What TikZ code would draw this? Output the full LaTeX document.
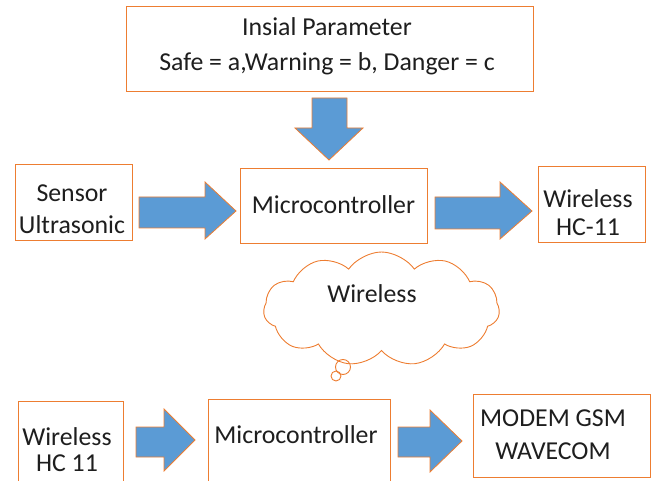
\documentclass[tikz,border=0pt]{standalone}
\usepackage{fontspec}
\setmainfont{Carlito}
\usetikzlibrary{shapes.symbols}
\definecolor{obord}{RGB}{237,125,49}
\definecolor{ablue}{RGB}{91,155,213}
\definecolor{tgray}{RGB}{30,30,30}
\tikzset{
  box/.style={draw=obord,line width=1pt,fill=white},
  lbl/.style={text=tgray,font=\fontsize{25.8}{32}\selectfont,align=center,inner sep=0pt},
  blk/.style={draw=obord,line width=0.8pt,fill=ablue}
}
\begin{document}
\begin{tikzpicture}[x=1pt,y=-1pt]
\useasboundingbox (0,0) rectangle (651,481);
\clip (0,0) rectangle (651,481);
% boxes
\draw[box] (126,7) rectangle (533,92);
\node[lbl,font=\fontsize{25.8}{35}\selectfont] (top) at (327,46) {Insial Parameter\\Safe = a,Warning = b, Danger = c};
\draw[box] (15,165) rectangle (132,241);
\node[lbl] (sens) at (72,209) {Sensor\\Ultrasonic};
\draw[box] (240,169) rectangle (427,244);
\node[lbl] (mc1) at (333.5,205) {Microcontroller};
\draw[box] (538,167) rectangle (645,243);
\node[lbl,font=\fontsize{25.8}{28}\selectfont] (wl1) at (588,213) {Wireless\\HC-11};
\draw[box] (18,401) rectangle (123,490);
\node[lbl,font=\fontsize{25.8}{26}\selectfont] (wl2) at (67,450) {Wireless\\HC 11};
\draw[box] (208,399) rectangle (390,490);
\node[lbl] (mc2) at (296,435) {Microcontroller};
\draw[box] (473,394) rectangle (650,477);
\node[lbl,font=\fontsize{25.8}{33}\selectfont] (gsm) at (553,435) {MODEM GSM\\WAVECOM};
% block arrows
\draw[blk] (312,98) -- (347,98) -- (347,128) -- (363,128) -- (329,160) -- (295,128) -- (312,128) -- cycle;
\draw[blk] (139,197) -- (205,197) -- (205,182) -- (236,211) -- (205,239) -- (205,228) -- (139,228) -- cycle;
\draw[blk] (435,197) -- (500,197) -- (500,182) -- (532,211) -- (500,239) -- (500,229) -- (435,229) -- cycle;
\draw[blk] (136,427) -- (164,427) -- (164,409) -- (195,440) -- (164,471) -- (164,457) -- (136,457) -- cycle;
\draw[blk] (398,427) -- (430,427) -- (430,410) -- (462,441) -- (430,472) -- (430,457) -- (398,457) -- cycle;
% cloud
\node[cloud,draw=obord,line width=0.9pt,cloud puffs=11,cloud puff arc=110,aspect=2.1,minimum width=236pt,minimum height=114pt,inner sep=0pt] (cl) at (381.5,309) {};
\node[lbl] (cltxt) at (372,294) {Wireless};
\draw[obord,line width=0.9pt] (343,367) circle (7.5);
\draw[obord,line width=0.9pt] (336,376) circle (5);
\end{tikzpicture}
\end{document}
